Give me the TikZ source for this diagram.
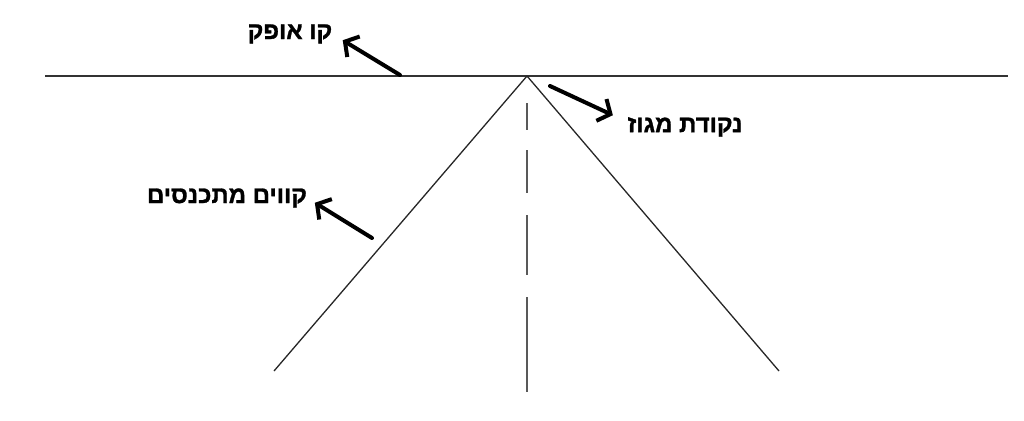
\documentclass[tikz,border=0pt]{standalone}
\usepackage{fontspec}
\newfontfamily\hebfont[Script=Hebrew, BoldFont={Liberation Sans Bold}, BoldFeatures={FakeBold=1.2}]{Liberation Sans}
\TeXXeTstate=1
\usetikzlibrary{arrows.meta, positioning}

\begin{document}
\begin{tikzpicture}[
x=1pt, y=-1pt,
every node/.style={font=\hebfont\bfseries\fontsize{24}{27}\selectfont, inner sep=0pt},
horizon/.style={line width=2pt, black!80},
guide/.style={line width=1.3pt, black!85},
axis/.style={line width=1.8pt, black!65, dash pattern=on 27pt off 20pt on 43pt off 22pt on 60pt off 22pt on 95pt off 30pt},
pointer/.style={-{Straight Barb[length=10pt,width=24pt]}, line width=4pt, line cap=round, line join=round}
]
\useasboundingbox (0,0) rectangle (1024,420);

% PUNTOS
\coordinate (vp) at (527,76);
\coordinate (hleft) at (45,76);
\coordinate (hright) at (1008,76);
\coordinate (footL) at (274,371);
\coordinate (footR) at (779,371);
\coordinate (axisTop) at (527,103);
\coordinate (axisBot) at (527,392);

% ETIQUETAS
\node (lblHorizon) at (290,34) {\beginR קו אופק\endR};
\node (lblVp) at (685,127) {\beginR נקודת מגוז\endR};
\node (lblLines) at (227,198) {\beginR קווים מתכנסים\endR};

% LINEAS
\draw[horizon] (hleft) -- (hright);
\draw[guide] (vp) -- (footL);
\draw[guide] (vp) -- (footR);
\draw[axis] (axisTop) -- (axisBot);

% FLECHAS
\coordinate (tailHorizon) at (400,75);
\coordinate (tailVp) at (550,86);
\coordinate (tailLines) at (372,238);
\draw[pointer, shorten >=12pt] (tailHorizon) -- (lblHorizon.east);
\draw[pointer, shorten >=16pt] (tailVp) -- (lblVp.175);
\draw[pointer, shorten >=9pt] (tailLines) -- (lblLines.east);

\end{tikzpicture}
\end{document}
